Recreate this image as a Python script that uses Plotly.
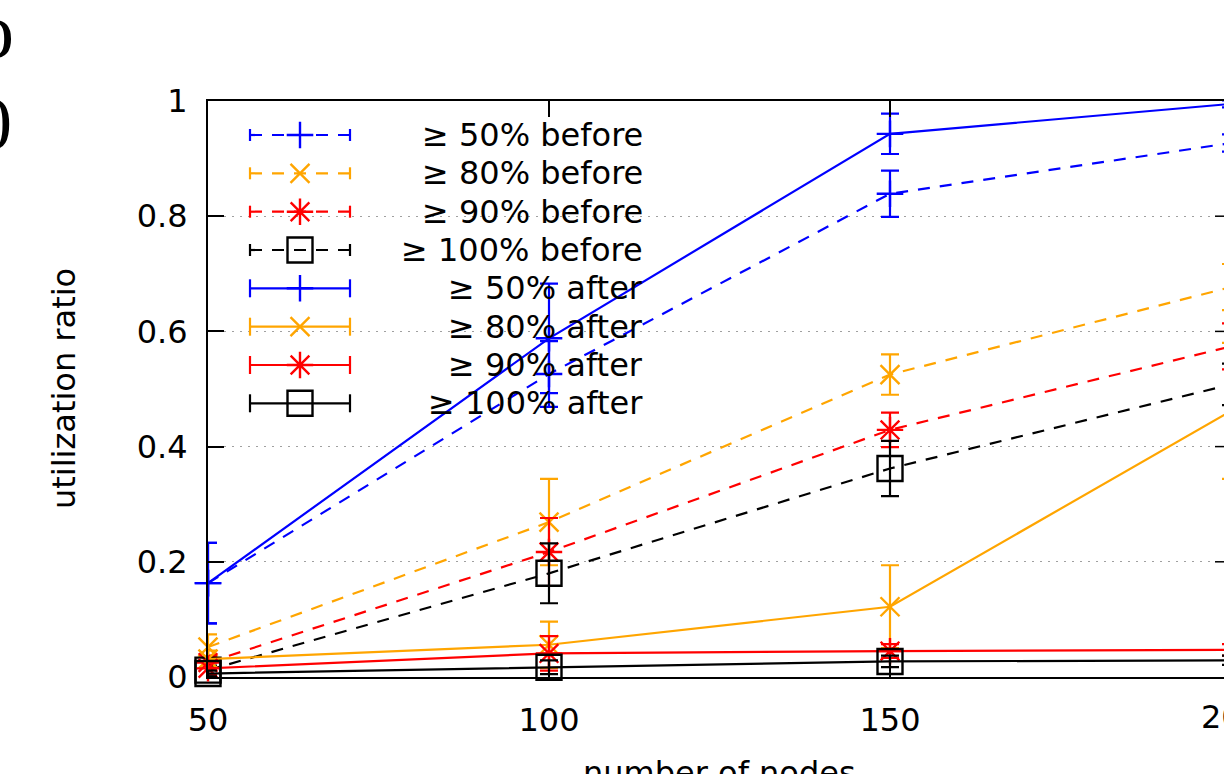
import plotly.graph_objects as go

# ---------------- data ----------------
nodes = [50, 100, 150, 200]

before_50 = [0.163, 0.526, 0.839, 0.927]
before_50_err = [0.070, 0.057, 0.040, 0.015]
before_80 = [0.052, 0.269, 0.525, 0.677]
before_80_err = [0.022, 0.075, 0.035, 0.040]
before_90 = [0.025, 0.217, 0.429, 0.574]
before_90_err = [0.012, 0.059, 0.030, 0.040]
before_100 = [0.012, 0.180, 0.362, 0.508]
before_100_err = [0.008, 0.052, 0.048, 0.036]

after_50 = [0.163, 0.588, 0.943, 0.995]
after_50_err = [0.070, 0.095, 0.035, 0.006]
after_80 = [0.031, 0.056, 0.122, 0.462]
after_80_err = [0.015, 0.040, 0.072, 0.118]
after_90 = [0.015, 0.041, 0.045, 0.047]
after_90_err = [0.010, 0.030, 0.012, 0.010]
after_100 = [0.006, 0.017, 0.027, 0.029]
after_100_err = [0.005, 0.012, 0.010, 0.008]

series_labels = ["≥ 50% before", "≥ 80% before", "≥ 90% before", "≥ 100% before",
                 "≥ 50% after", "≥ 80% after", "≥ 90% after", "≥ 100% after"]
y_ticks = [0, 0.2, 0.4, 0.6, 0.8, 1]
x_ticks = [50, 100, 150, 200]
x_title = "number of nodes"
y_title = "utilization ratio"

# ---------------- styles / layout ----------------
W, H = 1224, 774
L, T, PW, PH = 208, 101, 1016, 576
FULL_PW = 1023  # plot width in the original (right part cropped)
x_max = 50 + 150 * PW / FULL_PW
FONT = "DejaVu Sans"
FS = 32
LW = 2.2
MLW = 2.4

def px(x):
    return (x - L) / PW

def py(y):
    return (T + PH - y) / PH

colors = ["#0000ff", "#ffa500", "#ff0000", "#000000"]
symbols = ["cross-thin", "x-thin", "asterisk", "square-open"]
sizes = [19, 19, 22, 25]

ys = [before_50, before_80, before_90, before_100, after_50, after_80, after_90, after_100]
errs = [before_50_err, before_80_err, before_90_err, before_100_err,
        after_50_err, after_80_err, after_90_err, after_100_err]

fig = go.Figure()
for i, (yv, ev) in enumerate(zip(ys, errs)):
    k = i % 4
    dashed = i < 4
    c = colors[k]
    fig.add_trace(go.Scatter(
        x=nodes, y=yv, mode="lines+markers", name=series_labels[i],
        line=dict(color=c, width=LW, dash="12px,10px" if dashed else "solid"),
        marker=dict(symbol=symbols[k], size=sizes[k], color=c,
                    line=dict(color=c, width=MLW)),
        error_y=dict(type="data", array=ev, visible=True, color=c,
                     thickness=LW, width=9),
        cliponaxis=False, showlegend=False,
    ))

# ----- manual gnuplot-style key (pixel overlay axes) -----
row_y = [135, 173.3, 211.7, 250, 288.3, 326.7, 365, 403.3]
for i, yc in enumerate(row_y):
    k = i % 4
    dashed = i < 4
    c = colors[k]
    h = 6 if dashed else 9
    fig.add_trace(go.Scatter(
        x=[250, 350], y=[yc, yc], mode="lines", xaxis="x2", yaxis="y2",
        line=dict(color=c, width=LW, dash="12px,10px" if dashed else "solid"),
        showlegend=False, hoverinfo="skip", cliponaxis=False))
    fig.add_trace(go.Scatter(
        x=[250, 250, None, 350, 350], y=[yc - h, yc + h, None, yc - h, yc + h],
        mode="lines", xaxis="x2", yaxis="y2", line=dict(color=c, width=LW),
        showlegend=False, hoverinfo="skip", cliponaxis=False))
    fig.add_trace(go.Scatter(
        x=[300], y=[yc], mode="markers", xaxis="x2", yaxis="y2",
        marker=dict(symbol=symbols[k], size=sizes[k], color=c,
                    line=dict(color=c, width=MLW)),
        showlegend=False, hoverinfo="skip", cliponaxis=False))
    fig.add_annotation(x=px(645), y=py(yc), xref="paper", yref="paper",
                       text=series_labels[i], showarrow=False, xanchor="right",
                       yanchor="middle", font=dict(family=FONT, size=FS, color="black"))

shapes = []
# white key box hiding the grid (between grid and traces)
shapes.append(dict(type="rect", xref="paper", yref="paper", x0=px(230), x1=px(646),
                   y0=py(420), y1=py(112), fillcolor="white", line=dict(width=0),
                   layer="between"))
# mirrored right ticks (right border itself is cropped out)
for v in y_ticks[1:-1]:
    shapes.append(dict(type="line", xref="paper", yref="y", x0=1 - 9 / PW, x1=1,
                       y0=v, y1=v, line=dict(color="black", width=1.5)))

annotations = [
    dict(x=px(64), y=py(389), xref="paper", yref="paper", text=y_title, textangle=-90,
         showarrow=False, xanchor="center", yanchor="middle",
         font=dict(family=FONT, size=FS, color="black")),
    dict(x=px(719.5), y=py(773), xref="paper", yref="paper", text=x_title,
         showarrow=False, xanchor="center", yanchor="middle",
         font=dict(family=FONT, size=FS, color="black")),
    dict(x=(x_ticks[-1] - 50) / (x_max - 50), y=py(717), xref="paper", yref="paper",
         text=str(x_ticks[-1]), showarrow=False, xanchor="center", yanchor="middle",
         font=dict(family=FONT, size=FS, color="black")),
    # cropped large glyphs at the top-left edge
    dict(x=px(16), y=py(30), xref="paper", yref="paper", text="o", showarrow=False,
         xanchor="right", yanchor="middle",
         font=dict(family="Liberation Serif", size=78, color="black")),
    dict(x=px(14), y=py(124), xref="paper", yref="paper", text="0", showarrow=False,
         xanchor="right", yanchor="middle",
         font=dict(family="Liberation Serif", size=74, color="black")),
]
for a in annotations:
    fig.add_annotation(**a)

fig.update_layout(
    width=W, height=H, autosize=False,
    margin=dict(l=L, r=W - L - PW, t=T, b=H - T - PH, pad=0),
    paper_bgcolor="white", plot_bgcolor="white",
    font=dict(family=FONT, size=FS, color="black"),
    shapes=shapes,
    xaxis=dict(range=[50, x_max], tickvals=x_ticks[:-1], ticks="inside", ticklen=16,
               tickwidth=1.5, tickcolor="black", showline=True, linewidth=2,
               linecolor="black", mirror="ticks", showgrid=False, zeroline=False,
               ticklabelstandoff=14, tickfont=dict(family=FONT, size=FS, color="black")),
    yaxis=dict(range=[0, 1], tickvals=y_ticks, ticks="inside", ticklen=16,
               tickwidth=1.5, tickcolor="black", showline=True, linewidth=2,
               linecolor="black", mirror=False, showgrid=True, gridcolor="#a0a0a0",
               griddash="2px,6px", gridwidth=1, zeroline=False,
               ticklabelstandoff=12, tickfont=dict(family=FONT, size=FS, color="black")),
    xaxis2=dict(overlaying="x", range=[L, L + PW], visible=False),
    yaxis2=dict(overlaying="y", range=[T + PH, T], visible=False),
)

fig.write_html(
    "out.html",
    config={"displayModeBar": False},
    post_script="document.body.style.margin='0px';document.body.style.padding='0px';"
                "document.body.style.overflow='hidden';",
)
